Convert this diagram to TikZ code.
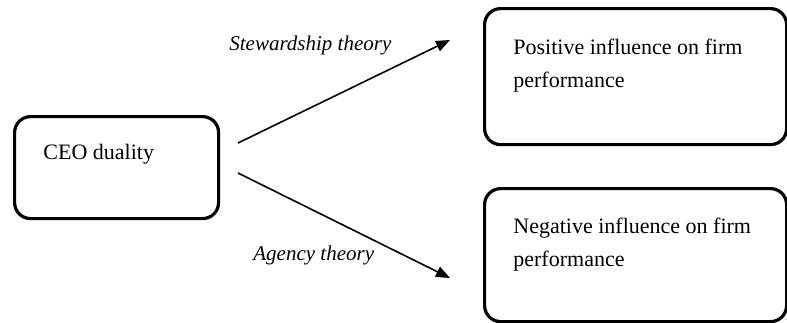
\documentclass[tikz,border=0pt]{standalone}
\usepackage{fontspec}
\setmainfont{Liberation Serif}
\usetikzlibrary{arrows.meta}

\tikzset{
  box/.style={draw, line width=1.6pt, rounded corners=8pt, anchor=north west, inner sep=0pt},
  boxtext/.style={anchor=base west, inner sep=0pt, align=left, font=\fontsize{11}{16.5}\selectfont},
  theory/.style={anchor=base west, inner sep=0pt, font=\fontsize{10.5}{12}\selectfont\itshape},
  link/.style={line width=0.8pt, -{Triangle[length=7pt,width=5.5pt]}}
}

\begin{document}
\begin{tikzpicture}[x=0.5pt,y=-0.5pt]
        \useasboundingbox (0,0) rectangle (787,322);

% boxes
\node[box, minimum width=102pt, minimum height=51pt] (ceo) at (13,115) {};
\node[box, minimum width=151pt, minimum height=68pt] (pos) at (483,7) {};
\node[box, minimum width=151pt, minimum height=66.5pt] (neg) at (483,187) {};

% base anchor sits on the last line
\node[boxtext] (ceotxt) at (43,159) {CEO duality};
\node[boxtext] (postxt) at (513,87) {Positive influence on firm\\performance};
\node[boxtext] (negtxt) at (513,266) {Negative influence on firm\\performance};

% arrows
\coordinate (stewA) at (238,143);
\coordinate (stewB) at (450,40);
\coordinate (agA) at (238,173);
\coordinate (agB) at (450,278);

\draw[link] (stewA) -- (stewB);
\draw[link] (agA) -- (agB);

\node[theory] (stew) at (229,50) {Stewardship theory};
\node[theory] (agency) at (253,260) {Agency theory};

\end{tikzpicture}
\end{document}
